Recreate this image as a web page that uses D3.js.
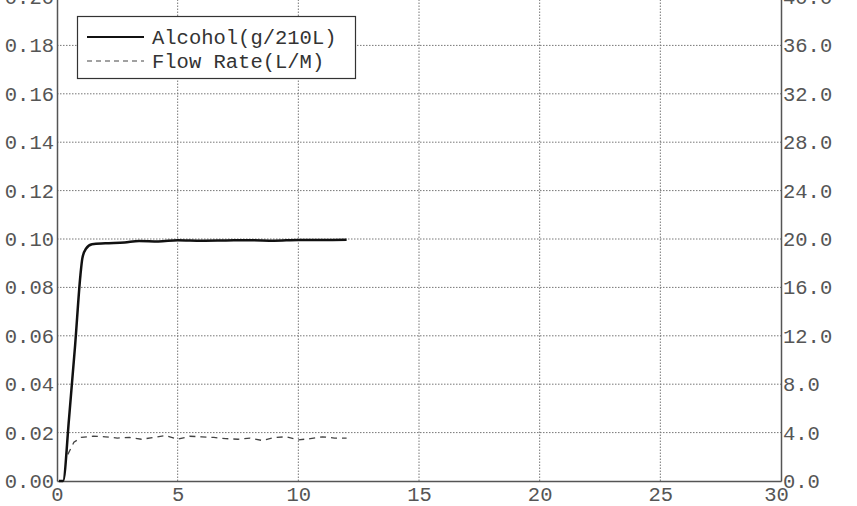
<!DOCTYPE html>
<html>
<head>
<meta charset="utf-8">
<script src="https://cdn.jsdelivr.net/npm/d3@7"></script>
<style>
  html, body { margin: 0; padding: 0; background: #fff; }
  svg { display: block; }
  text { font-family: "Liberation Mono", "DejaVu Sans Mono", monospace; }
</style>
</head>
<body>
<svg id="chart" width="857" height="506"></svg>
<script>
// ---- data ----
const xTicks = [0, 5, 10, 15, 20, 25, 30];
const leftTicks = [0.00, 0.02, 0.04, 0.06, 0.08, 0.10, 0.12, 0.14, 0.16, 0.18, 0.20];
const rightTicks = [0, 4, 8, 12, 16, 20, 24, 28, 32, 36, 40];

const alcoholTime = [0.08, 0.25, 0.5, 0.75, 0.97, 1.05, 1.2, 1.45, 2.0, 2.8, 3.4, 4.2, 5.0, 6.0, 7.0, 8.0, 9.0, 10.0, 11.0, 12.0];
const alcoholVal  = [0, 0, 0.026, 0.056, 0.085, 0.092, 0.096, 0.0978, 0.0982, 0.0986, 0.0992, 0.0990, 0.0995, 0.0993, 0.0994, 0.0995, 0.0993, 0.0996, 0.0996, 0.0997];

const flowTime = [0.45, 0.7, 1.0, 1.5, 2.0, 2.5, 3.0, 3.5, 4.0, 4.5, 5.0, 5.5, 6.0, 6.5, 7.0, 7.5, 8.0, 8.5, 9.0, 9.5, 10.0, 10.5, 11.0, 11.5, 12.0];
const flowVal  = [2.2, 3.2, 3.6, 3.7, 3.65, 3.55, 3.6, 3.45, 3.6, 3.75, 3.45, 3.7, 3.65, 3.6, 3.5, 3.45, 3.55, 3.35, 3.6, 3.65, 3.4, 3.5, 3.65, 3.55, 3.55];

const legendLabels = ["Alcohol(g/210L)", "Flow Rate(L/M)"];

// ---- chart ----
const svg = d3.select("#chart");
const x = d3.scaleLinear().domain([0, 30]).range([57, 781]);
const yL = d3.scaleLinear().domain([0, 0.2]).range([481, -3]);
const yR = d3.scaleLinear().domain([0, 40]).range([481, -3]);

const textColor = "#555";
const fontSize = 20.5;

// grid
const grid = svg.append("g");
grid.selectAll("line.h").data(leftTicks.slice(1)).join("line")
  .attr("x1", x(0)).attr("x2", x(30))
  .attr("y1", d => yL(d)).attr("y2", d => yL(d))
  .attr("stroke", "#777").attr("stroke-width", 1).attr("stroke-dasharray", "1.5,1.5");
grid.selectAll("line.v").data(xTicks.slice(1, -1)).join("line")
  .attr("x1", d => x(d)).attr("x2", d => x(d))
  .attr("y1", yL(0)).attr("y2", yL(0.2))
  .attr("stroke", "#777").attr("stroke-width", 1).attr("stroke-dasharray", "1.5,1.5");

// axes
const axL = svg.append("g").attr("transform", `translate(${x(0)},0)`)
  .call(d3.axisLeft(yL).tickValues(leftTicks).tickFormat(d3.format(".2f")).tickSize(0).tickPadding(3));
const axR = svg.append("g").attr("transform", `translate(${x(30)},0)`)
  .call(d3.axisRight(yR).tickValues(rightTicks).tickFormat(d3.format(".1f")).tickSize(0).tickPadding(2));
const axB = svg.append("g").attr("transform", `translate(0,${yL(0)})`)
  .call(d3.axisBottom(x).tickValues(xTicks).tickFormat(d3.format("d")).tickSize(0));

[axL, axR, axB].forEach(a => {
  a.select(".domain").attr("stroke", "#555").attr("stroke-width", 1.5);
  a.selectAll("text").attr("fill", textColor).attr("font-size", fontSize)
    .attr("font-family", '"Liberation Mono", monospace');
});
axB.selectAll("text").attr("y", 20).attr("dy", "0");
axB.selectAll(".tick").filter(d => d === 30).select("text").attr("dx", -5);

// lines
const alcohol = alcoholTime.map((t, i) => [t, alcoholVal[i]]);
const flow = flowTime.map((t, i) => [t, flowVal[i]]);

svg.append("path").datum(flow)
  .attr("fill", "none").attr("stroke", "#444").attr("stroke-width", 1.3)
  .attr("stroke-dasharray", "6,5")
  .attr("d", d3.line().x(d => x(d[0])).y(d => yR(d[1])));

svg.append("path").datum(alcohol)
  .attr("fill", "none").attr("stroke", "#111").attr("stroke-width", 2.5)
  .attr("stroke-linejoin", "round")
  .attr("d", d3.line().x(d => x(d[0])).y(d => yL(d[1])).curve(d3.curveMonotoneX));

// legend
const lg = svg.append("g");
lg.append("rect").attr("x", 77.5).attr("y", 16.5).attr("width", 278).attr("height", 62)
  .attr("fill", "#fff").attr("stroke", "#333").attr("stroke-width", 1.2);
lg.append("line").attr("x1", 87).attr("x2", 144).attr("y1", 37).attr("y2", 37)
  .attr("stroke", "#111").attr("stroke-width", 2);
lg.append("line").attr("x1", 87).attr("x2", 144).attr("y1", 61).attr("y2", 61)
  .attr("stroke", "#444").attr("stroke-width", 1.2).attr("stroke-dasharray", "5,4");
lg.selectAll("text").data(legendLabels).join("text")
  .attr("x", 152).attr("y", (d, i) => 37 + i * 24).attr("dy", "0.35em")
  .attr("fill", "#333").attr("font-size", fontSize).text(d => d);
</script>
</body>
</html>
